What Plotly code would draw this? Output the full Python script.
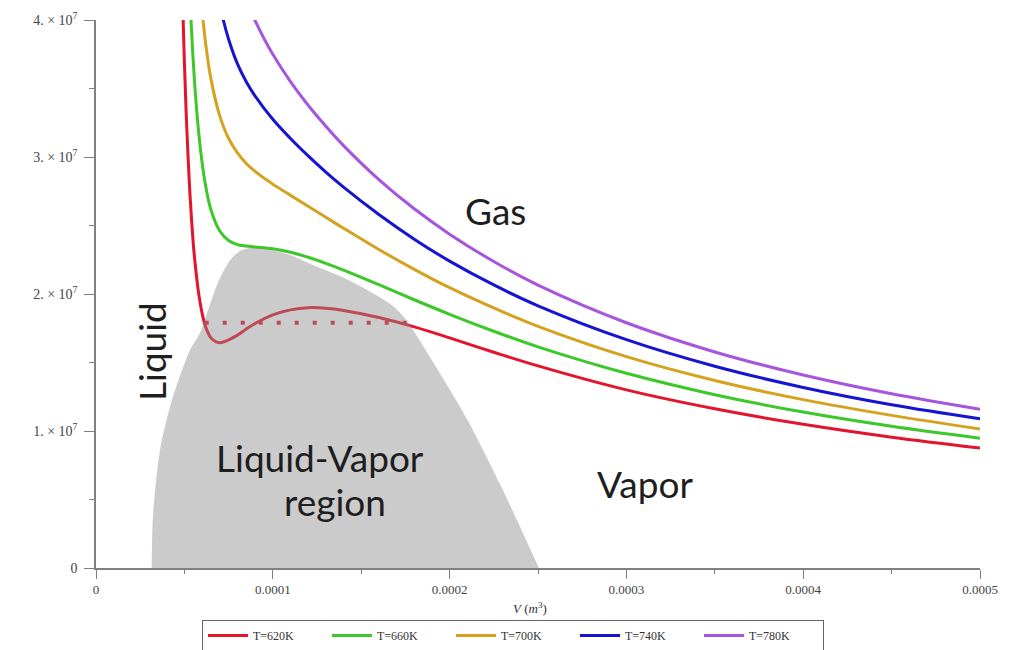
import plotly.graph_objects as go

# ---- data (V in m^3, P in Pa) ----
v_620 = [0.485e-4, 0.49e-4, 0.50e-4, 0.51e-4, 0.52e-4, 0.53e-4, 0.54e-4, 0.55e-4, 0.56e-4, 0.58e-4,
         0.60e-4, 0.62e-4, 0.65e-4, 0.68e-4, 0.70e-4, 0.72e-4, 0.75e-4, 0.80e-4, 0.85e-4, 0.90e-4,
         1.00e-4, 1.10e-4, 1.20e-4, 1.30e-4, 1.40e-4, 1.60e-4, 1.80e-4, 2.00e-4, 2.25e-4, 2.50e-4,
         3.00e-4, 3.50e-4, 4.00e-4, 4.50e-4, 5.00e-4]
p_620 = [4.40e7, 4.14e7, 3.69e7, 3.32e7, 3.02e7, 2.76e7, 2.55e7, 2.37e7, 2.23e7, 2.01e7,
         1.86e7, 1.76e7, 1.68e7, 1.65e7, 1.645e7, 1.65e7, 1.665e7, 1.70e7, 1.745e7, 1.785e7,
         1.848e7, 1.884e7, 1.900e7, 1.896e7, 1.880e7, 1.828e7, 1.760e7, 1.680e7, 1.575e7, 1.475e7,
         1.300e7, 1.162e7, 1.049e7, 0.955e7, 0.876e7]

v_660 = [0.53e-4, 0.54e-4, 0.55e-4, 0.56e-4, 0.58e-4, 0.60e-4, 0.62e-4, 0.65e-4, 0.70e-4, 0.75e-4,
         0.80e-4, 0.85e-4, 0.90e-4, 1.00e-4, 1.10e-4, 1.20e-4, 1.30e-4, 1.40e-4, 1.60e-4, 1.80e-4,
         2.00e-4, 2.25e-4, 2.50e-4, 3.00e-4, 3.50e-4, 4.00e-4, 4.50e-4, 5.00e-4]
p_660 = [4.21e7, 3.93e7, 3.70e7, 3.50e7, 3.19e7, 2.96e7, 2.79e7, 2.615e7, 2.46e7, 2.39e7,
         2.36e7, 2.35e7, 2.343e7, 2.330e7, 2.305e7, 2.268e7, 2.224e7, 2.175e7, 2.068e7, 1.958e7,
         1.852e7, 1.728e7, 1.614e7, 1.421e7, 1.265e7, 1.138e7, 1.034e7, 0.947e7]

v_700 = [0.60e-4, 0.62e-4, 0.65e-4, 0.70e-4, 0.75e-4, 0.80e-4, 0.85e-4, 0.90e-4, 1.00e-4, 1.10e-4,
         1.20e-4, 1.30e-4, 1.40e-4, 1.60e-4, 1.80e-4, 2.00e-4, 2.25e-4, 2.50e-4, 3.00e-4, 3.50e-4,
         4.00e-4, 4.50e-4, 5.00e-4]
p_700 = [4.07e7, 3.83e7, 3.57e7, 3.30e7, 3.135e7, 3.03e7, 2.953e7, 2.895e7, 2.802e7, 2.720e7,
         2.640e7, 2.560e7, 2.480e7, 2.325e7, 2.180e7, 2.046e7, 1.898e7, 1.764e7, 1.543e7, 1.369e7,
         1.229e7, 1.114e7, 1.015e7]

v_740 = [0.70e-4, 0.72e-4, 0.75e-4, 0.80e-4, 0.85e-4, 0.90e-4, 1.00e-4, 1.10e-4, 1.20e-4, 1.30e-4,
         1.40e-4, 1.60e-4, 1.80e-4, 2.00e-4, 2.25e-4, 2.50e-4, 3.00e-4, 3.50e-4, 4.00e-4, 4.50e-4,
         5.00e-4]
p_740 = [4.12e7, 4.00e7, 3.86e7, 3.68e7, 3.55e7, 3.445e7, 3.275e7, 3.135e7, 3.008e7, 2.890e7,
         2.780e7, 2.580e7, 2.400e7, 2.240e7, 2.066e7, 1.914e7, 1.667e7, 1.473e7, 1.318e7, 1.192e7,
         1.090e7]

v_780 = [0.88e-4, 0.90e-4, 0.95e-4, 1.00e-4, 1.10e-4, 1.20e-4, 1.30e-4, 1.40e-4, 1.60e-4, 1.80e-4,
         2.00e-4, 2.25e-4, 2.50e-4, 3.00e-4, 3.50e-4, 4.00e-4, 4.50e-4, 5.00e-4]
p_780 = [4.05e7, 3.995e7, 3.865e7, 3.750e7, 3.550e7, 3.378e7, 3.224e7, 3.083e7, 2.835e7, 2.622e7,
         2.437e7, 2.237e7, 2.065e7, 1.790e7, 1.577e7, 1.409e7, 1.272e7, 1.159e7]

# Maxwell (equal-area) line of the T=620K isotherm
v_maxwell = [0.615e-4, 1.76e-4]
p_maxwell = [1.79e7, 1.79e7]

# coexistence (liquid-vapor) dome
v_dome = [0.315e-4, 0.322e-4, 0.362e-4, 0.430e-4, 0.532e-4, 0.588e-4, 0.628e-4, 0.673e-4,
          0.718e-4, 0.769e-4, 0.814e-4, 0.871e-4, 0.984e-4, 1.097e-4, 1.227e-4, 1.380e-4,
          1.533e-4, 1.680e-4, 1.759e-4, 1.906e-4, 2.098e-4, 2.285e-4, 2.505e-4]
p_dome = [0.0, 0.372e7, 0.861e7, 1.226e7, 1.591e7, 1.715e7, 1.861e7, 2.029e7,
          2.161e7, 2.263e7, 2.314e7, 2.336e7, 2.325e7, 2.285e7, 2.212e7, 2.131e7,
          2.029e7, 1.912e7, 1.803e7, 1.504e7, 1.088e7, 0.613e7, 0.0]

series_names = ["T=620K", "T=660K", "T=700K", "T=740K", "T=780K"]
series_v = [v_620, v_660, v_700, v_740, v_780]
series_p = [p_620, p_660, p_700, p_740, p_780]
series_colors = ["#e3142c", "#3cc82a", "#d4a21e", "#1414d2", "#a656dc"]

x_tickvals = [0, 0.0001, 0.0002, 0.0003, 0.0004, 0.0005]
x_ticktext = ["0", "0.0001", "0.0002", "0.0003", "0.0004", "0.0005"]
y_tickvals = [0, 1e7, 2e7, 3e7, 4e7]
y_ticktext = ["0", "1. × 10<sup>7</sup>", "2. × 10<sup>7</sup>", "3. × 10<sup>7</sup>", "4. × 10<sup>7</sup>"]

region_labels = ["Gas", "Liquid", "Liquid-Vapor", "region", "Vapor"]
region_x = [2.257e-4, 0.317e-4, 1.267e-4, 1.352e-4, 3.105e-4]
region_y = [2.613e7, 1.577e7, 0.810e7, 0.482e7, 0.620e7]
region_angle = [0, -90, 0, 0, 0]

fig = go.Figure()

for name, vv, pp, col in zip(series_names, series_v, series_p, series_colors):
    fig.add_trace(go.Scatter(x=vv, y=pp, mode="lines", name=name,
                             line=dict(color=col, width=3, shape="spline", smoothing=1.0)))

fig.add_trace(go.Scatter(x=v_maxwell, y=p_maxwell, mode="lines", showlegend=False,
                         line=dict(color="#e3142c", width=4, dash="4px,14px")))

fig.add_trace(go.Scatter(x=v_dome, y=p_dome, mode="lines", showlegend=False, fill="tozeroy",
                         fillcolor="rgba(140,140,140,0.45)",
                         line=dict(width=0, shape="spline", smoothing=0.8, color="rgba(0,0,0,0)")))

for txt, xx, yy, ang in zip(region_labels, region_x, region_y, region_angle):
    fig.add_annotation(x=xx, y=yy, text=txt, showarrow=False, textangle=ang,
                       font=dict(family="Lato", size=37, color="#1e1e1e"))

fig.add_annotation(xref="paper", yref="paper", x=(530 - 96) / 884, y=-(608 - 568) / 548,
                   xanchor="center", yanchor="middle",
                   text="<i>V</i> (<i>m</i><sup>3</sup>)", showarrow=False,
                   font=dict(family="Liberation Serif", size=13, color="#333"))

axis_font = dict(family="Liberation Serif", size=14, color="#444")
fig.update_xaxes(range=[0, 0.0005], tickvals=x_tickvals, ticktext=x_ticktext,
                 showgrid=False, zeroline=False, showline=True, linecolor="#808080", linewidth=1.5,
                 ticks="outside", ticklen=9, tickcolor="#808080", tickwidth=1.2,
                 tickfont=dict(family="Liberation Serif", size=13, color="#444"), automargin=False,
                 minor=dict(dtick=0.00005, ticks="outside", ticklen=4, tickcolor="#808080", showgrid=False))
fig.update_yaxes(range=[0, 4e7], tickvals=y_tickvals, ticktext=y_ticktext,
                 showgrid=False, zeroline=False, showline=True, linecolor="#808080", linewidth=1.5,
                 ticks="outside", ticklen=10, tickcolor="#808080", tickwidth=1.2,
                 tickfont=axis_font, automargin=False, ticklabelstandoff=4,
                 minor=dict(dtick=0.5e7, ticks="outside", ticklen=5, tickcolor="#808080", showgrid=False))

W, H = 1015, 650
fig.update_layout(
    width=W, height=H,
    margin=dict(l=96, r=35, t=20, b=82, autoexpand=False),
    plot_bgcolor="white", paper_bgcolor="white",
    legend=dict(orientation="h", xref="container", yref="container",
                xanchor="center", x=513 / W, yanchor="top", y=1 - 620 / H,
                bordercolor="#666", borderwidth=1,
                font=dict(family="Liberation Serif", size=12, color="#333"),
                entrywidth=69, itemwidth=40, tracegroupgap=0),
)

fig.write_html("out.html", config={"displayModeBar": False},
               post_script="document.body.style.margin='0px';document.body.style.overflow='hidden';")
